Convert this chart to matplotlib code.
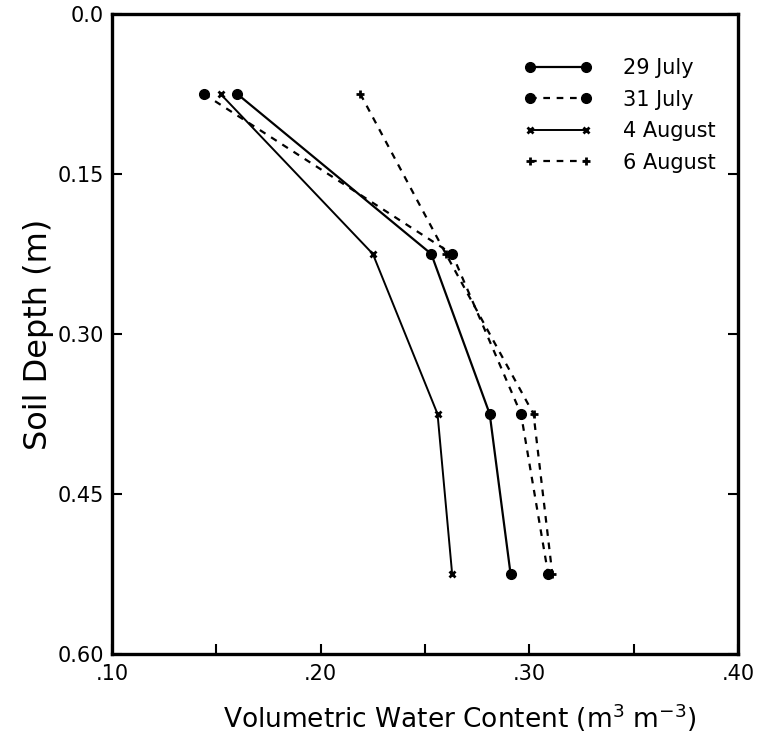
import numpy as np
import matplotlib
matplotlib.use("Agg")
import matplotlib.pyplot as plt
from matplotlib.ticker import FixedLocator

# soil depth (m) for each reading
depth = [0.075, 0.225, 0.375, 0.525]

# volumetric water content (m3 m-3)
july29 = [0.160, 0.253, 0.281, 0.291]
july31 = [0.144, 0.263, 0.296, 0.309]
aug04 = [0.152, 0.225, 0.256, 0.263]
aug06 = [0.219, 0.260, 0.302, 0.311]

labels = ["29 July", "31 July", "4 August", "6 August"]

fig = plt.figure(figsize=(7.61, 7.33), dpi=100)
ax = fig.add_axes([0.1472, 0.1078, 0.8226, 0.8732])

ax.plot(july29, depth, color='black', linestyle='-', lw=1.6,
        marker='o', ms=7, label=labels[0])
ax.plot(july31, depth, color='black', linestyle=(0, (3, 3)), lw=1.6,
        marker='o', ms=7, label=labels[1])
ax.plot(aug04, depth, color='black', linestyle='-', lw=1.4,
        marker='x', ms=5, mew=2, label=labels[2])
ax.plot(aug06, depth, color='black', linestyle=(0, (3, 3)), lw=1.6,
        marker='+', ms=6, mew=2, label=labels[3])

ax.set_xlim(0.10, 0.40)
ax.set_ylim(0.60, 0.0)

ax.xaxis.set_major_locator(FixedLocator([0.10, 0.20, 0.30, 0.40]))
ax.xaxis.set_minor_locator(FixedLocator([0.15, 0.25, 0.35]))
ax.set_xticklabels([".10", ".20", ".30", ".40"])
ax.yaxis.set_major_locator(FixedLocator([0.0, 0.15, 0.30, 0.45, 0.60]))
ax.set_yticklabels(["0.0", "0.15", "0.30", "0.45", "0.60"])

ax.tick_params(axis='both', which='both', direction='in', length=7, width=1.5,
               labelsize=15, right=True)
ax.tick_params(axis='x', pad=7)
ax.tick_params(axis='y', pad=6)
for s in ax.spines.values():
    s.set_linewidth(2.4)

ax.set_xlabel("Volumetric Water Content (m$^3$ m$^{-3}$)", fontsize=19, va='center')
ax.xaxis.set_label_coords(0.556, -0.1)
ax.set_ylabel("Soil Depth (m)", fontsize=23)
ax.yaxis.set_label_coords(-0.092, 0.5)

ax.legend(loc='upper right', bbox_to_anchor=(0.995, 0.96), frameon=False,
          numpoints=2, handlelength=3.3, handletextpad=1.5, labelspacing=0.55,
          fontsize=15)

fig.savefig("out.png", dpi=100)
